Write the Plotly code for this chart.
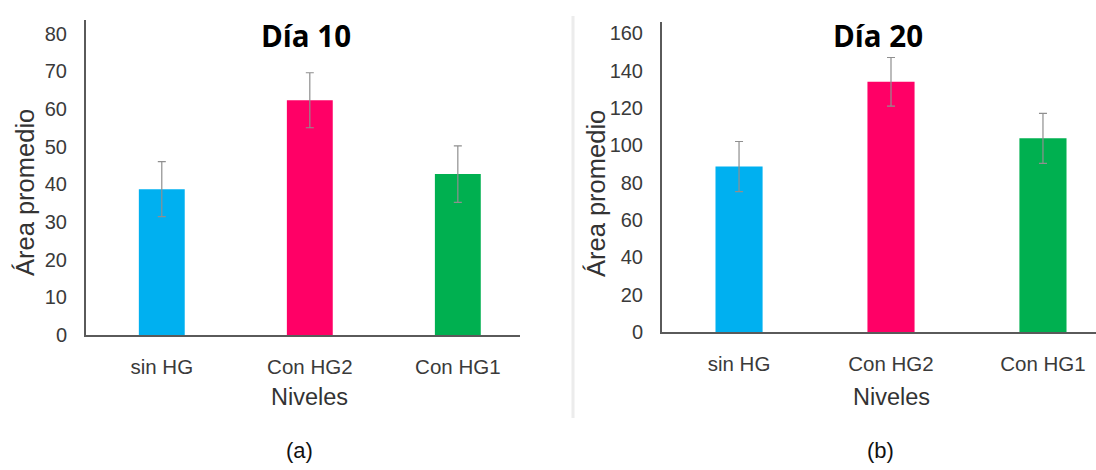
import plotly.graph_objects as go

# Group labels and summary statistics for the two sampling days
niveles = ["sin HG", "Con HG2", "Con HG1"]
colores = ["#00B0F0", "#FF0066", "#00B050"]

area_dia10 = [38.7, 62.3, 42.7]
error_dia10 = [7.3, 7.3, 7.5]

area_dia20 = [88.6, 134.0, 103.7]
error_dia20 = [13.4, 13.0, 13.4]

ticks_dia10 = [0, 10, 20, 30, 40, 50, 60, 70, 80]
ticks_dia20 = [0, 20, 40, 60, 80, 100, 120, 140, 160]

W, H = 1096, 470
ROW_SCALE = 1.024  # vertical layout scale applied to pixel rows

TICK_FONT = dict(family="Liberation Sans, Arial, sans-serif", size=20, color="#3a3a3a")
XTICK_FONT = dict(TICK_FONT, size=20.5)
AXIS_COLOR = "#5a5a5a"
ERR_COLOR = "#8f8f8f"

fig = go.Figure()

fig.add_trace(go.Bar(
    x=niveles, y=area_dia10, marker=dict(color=colores, line=dict(width=0)),
    width=0.31,
    error_y=dict(type="data", array=error_dia10, color=ERR_COLOR, thickness=1.2, width=4),
    xaxis="x", yaxis="y", showlegend=False,
))
fig.add_trace(go.Bar(
    x=niveles, y=area_dia20, marker=dict(color=colores, line=dict(width=0)),
    width=0.31,
    error_y=dict(type="data", array=error_dia20, color=ERR_COLOR, thickness=1.2, width=4),
    xaxis="x2", yaxis="y2", showlegend=False,
))


def px_x(p):
    return p / W


def px_y(p):
    return 1 - p * ROW_SCALE / H


xaxis_common = dict(
    type="category", showline=True, linecolor=AXIS_COLOR, linewidth=2,
    showgrid=False, zeroline=False, ticks="", tickfont=XTICK_FONT,
    ticklabelstandoff=12, fixedrange=True,
)
yaxis_common = dict(
    showline=True, linecolor=AXIS_COLOR, linewidth=2, showgrid=False,
    zeroline=False, ticks="", tickfont=TICK_FONT, ticklabelstandoff=13,
    tickmode="array", fixedrange=True,
)

fig.update_layout(
    width=W, height=H,
    margin=dict(l=0, r=0, t=0, b=0),
    paper_bgcolor="white", plot_bgcolor="white",
    xaxis=dict(**xaxis_common, domain=[px_x(86), px_x(520)], range=[-0.512, 2.42], anchor="y"),
    yaxis=dict(**yaxis_common, domain=[px_y(335), px_y(20)], range=[0, 83.6],
               tickvals=ticks_dia10, anchor="x"),
    xaxis2=dict(**xaxis_common, domain=[px_x(662), 1.0], range=[-0.507, 2.349], anchor="y2"),
    yaxis2=dict(**yaxis_common, domain=[px_y(332), px_y(22)], range=[0, 166],
                tickvals=ticks_dia20, anchor="x2"),
)

LABEL_FONT = dict(family="Liberation Sans, Arial, sans-serif", size=25.5, color="#333333")
TITLE_FONT = dict(family="Open Sans, Liberation Sans, sans-serif", size=29.5, color="#000000",
                  weight="bold")
CAPTION_FONT = dict(family="Liberation Sans, Arial, sans-serif", size=22, color="#111111")

annotations = [
    # panel titles
    dict(text="Día 10", x=px_x(306), y=px_y(35), font=TITLE_FONT),
    dict(text="Día 20", x=px_x(878), y=px_y(35), font=TITLE_FONT),
    # axis titles
    dict(text="Área promedio", x=px_x(25), y=px_y(193), textangle=-90, font=LABEL_FONT),
    dict(text="Área promedio", x=px_x(596), y=px_y(193), textangle=-90, font=LABEL_FONT),
    dict(text="Niveles", x=px_x(309), y=px_y(397), font=dict(LABEL_FONT, size=23.5)),
    dict(text="Niveles", x=px_x(891), y=px_y(397), font=dict(LABEL_FONT, size=23.5)),
    # panel captions
    dict(text="(a)", x=px_x(299), y=px_y(450), font=CAPTION_FONT),
    dict(text="(b)", x=px_x(880), y=px_y(450), font=CAPTION_FONT),
]
for a in annotations:
    a.update(xref="paper", yref="paper", showarrow=False, xanchor="center", yanchor="middle")
fig.update_layout(annotations=annotations)

# faint divider between the two panels
fig.add_shape(type="line", xref="paper", yref="paper",
              x0=px_x(573), x1=px_x(573), y0=px_y(16), y1=px_y(418),
              line=dict(color="#ececec", width=3))

fig.write_html("out.html")
